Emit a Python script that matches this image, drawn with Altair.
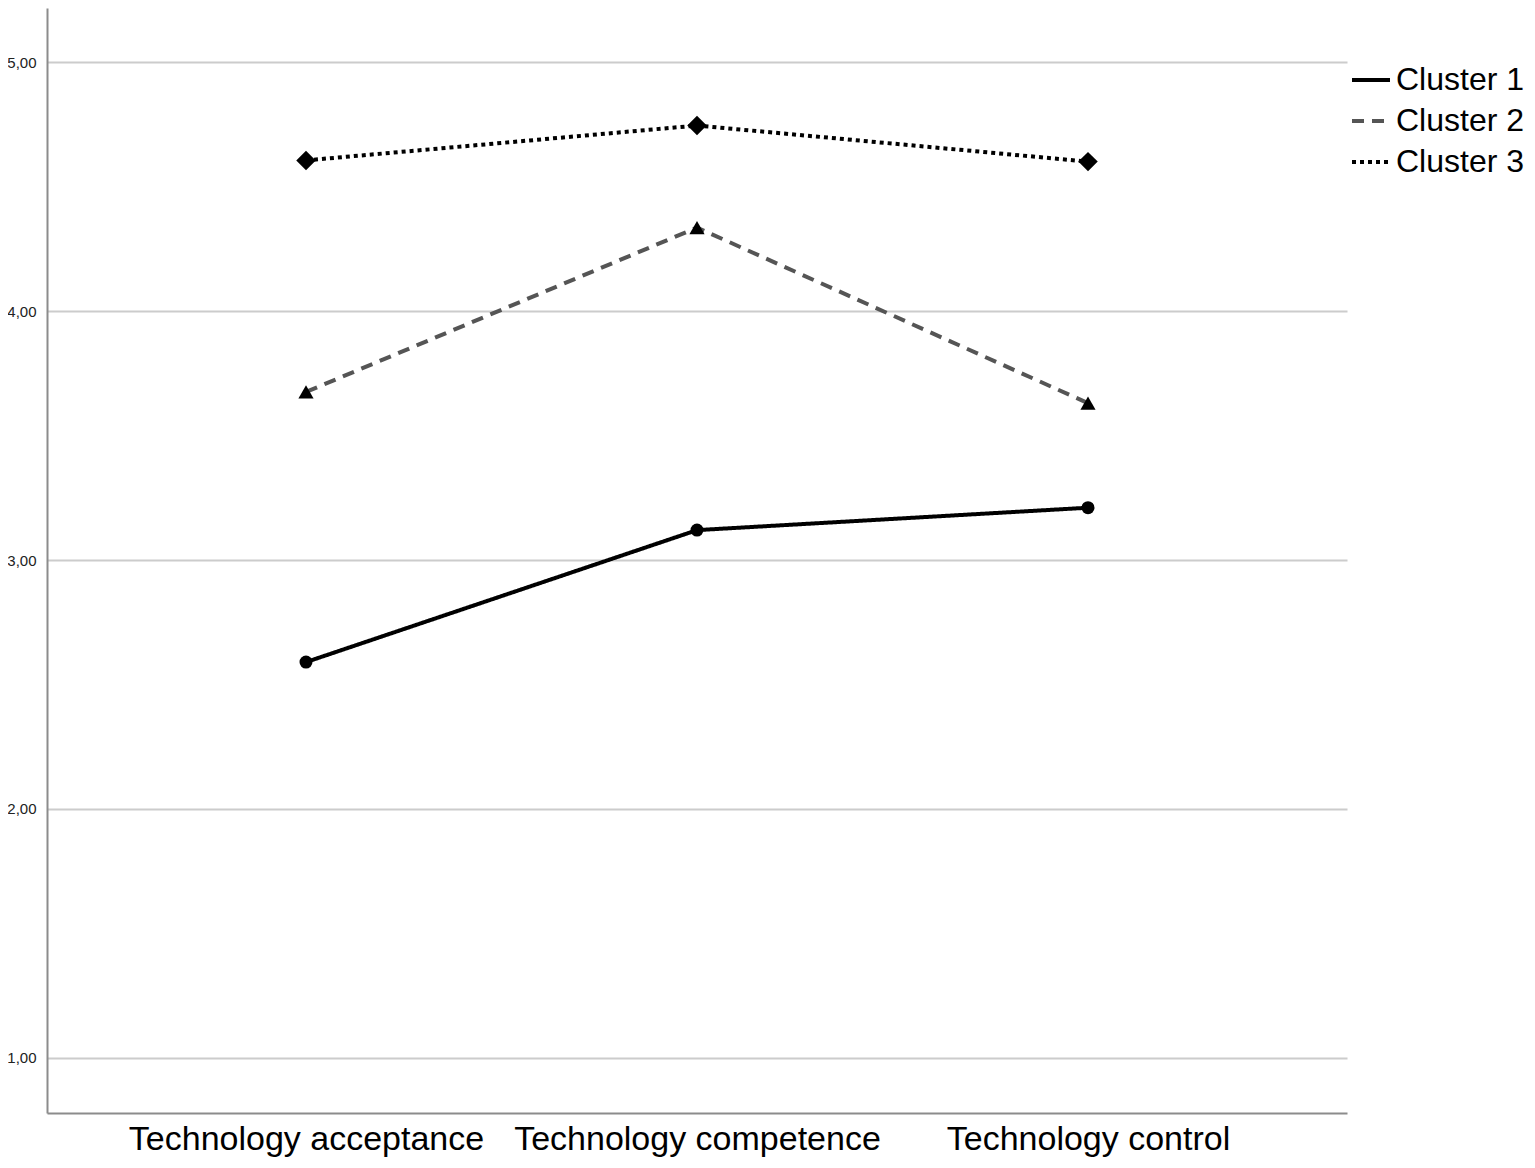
import altair as alt
import pandas as pd

categories = ["Technology acceptance", "Technology competence", "Technology control"]
clusters = ["Cluster 1", "Cluster 2", "Cluster 3"]
cluster1 = [2.59, 3.12, 3.21]
cluster2 = [3.675, 4.335, 3.63]
cluster3 = [4.605, 4.745, 4.60]
y_ticks = [1, 2, 3, 4, 5]
marker_shapes = ["circle", "triangle-up", "diamond"]
marker_sizes = [169, 230, 380]

rows = []
for name, vals in zip(clusters, [cluster1, cluster2, cluster3]):
    for c, v in zip(categories, vals):
        rows.append({"Variable": c, "Cluster": name, "Mean": v})
df = pd.DataFrame(rows)

x = alt.X(
    "Variable:N",
    sort=categories,
    scale=alt.Scale(type="point", padding=0.6624),
    axis=alt.Axis(
        title=None, labelAngle=0, labelFontSize=34, labelColor="black",
        labelPadding=9, labelLimit=600, ticks=False, domainColor="#8c8c8c",
        domainWidth=2, grid=False,
    ),
)
y = alt.Y(
    "Mean:Q",
    scale=alt.Scale(domain=[0.779, 5.217], nice=False, zero=False),
    axis=alt.Axis(
        title=None, values=y_ticks,
        labelExpr="replace(format(datum.value, '.2f'), '.', ',')",
        labelFontSize=15, labelColor="#222", labelPadding=11, ticks=False,
        domainColor="#8c8c8c", domainWidth=2,
        grid=True, gridColor="#cccccc", gridWidth=2,
    ),
)

leg = dict(
    title=None, orient="none", legendX=1303, legendY=51,
    symbolType="stroke", symbolSize=1444, symbolStrokeWidth=4,
    labelFontSize=32, labelColor="black", labelOffset=4,
    rowPadding=4, labelLimit=300,
)

lines = alt.Chart(df).mark_line(strokeWidth=4).encode(
    x=x,
    y=y,
    color=alt.Color(
        "Cluster:N",
        scale=alt.Scale(domain=clusters, range=["#000000", "#555555", "#000000"]),
        legend=alt.Legend(**leg),
    ),
    strokeDash=alt.StrokeDash(
        "Cluster:N",
        scale=alt.Scale(domain=clusters, range=[[1, 0], [12, 8], [4, 4]]),
        legend=alt.Legend(**leg),
    ),
)

point_layers = []
for name, shp, sz in zip(clusters, marker_shapes, marker_sizes):
    point_layers.append(
        alt.Chart(df)
        .transform_filter(alt.datum.Cluster == name)
        .mark_point(filled=True, opacity=1, color="black", shape=shp, size=sz)
        .encode(x=x, y=y)
    )

chart = (
    alt.layer(lines, *point_layers)
    .properties(
        width=1300,
        height=1105,
        autosize=alt.AutoSizeParams(type="none"),
        padding={"left": 39, "top": 0, "right": 180, "bottom": 52},
    )
    .configure(font="Liberation Sans")
    .configure_view(stroke=None)
)

chart.save("out.html", embed_options={"renderer": "svg", "actions": False})
